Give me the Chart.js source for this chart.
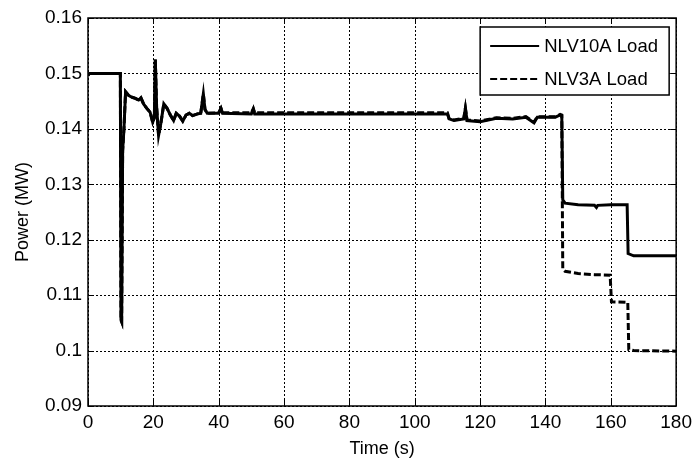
<!DOCTYPE html>
<html>
<head>
<meta charset="utf-8">
<title>Load power</title>
<script src="https://cdn.jsdelivr.net/npm/chart.js@4/dist/chart.umd.min.js"></script>
<style>
  html, body { margin: 0; padding: 0; background: #fff; }
  canvas { display: block; }
</style>
</head>
<body>
<canvas id="loadChart" width="697" height="462"></canvas>
<script>
// NLV10A load (MW) over time (s)
const timeA = [0, 0.5, 9.9, 10.1, 10.3, 10.6, 11.0, 11.5, 12.5, 13.5, 14.5, 15.5, 16.2, 17, 18, 19, 19.8, 20.3, 20.6, 21.0, 21.6, 22.3, 23.2, 24.2, 25.2, 26.2, 27, 28, 29, 30, 31, 32, 33.5, 34.5, 35.3, 35.8, 36.5, 40, 40.7, 41.2, 50, 50.6, 51, 60, 80, 100, 110, 110.5, 112, 115, 115.5, 116, 120, 125, 130, 134, 136.5, 137.5, 140, 143, 144.5, 145, 145.3, 146, 150, 155, 155.6, 156, 160, 165, 165.3, 167, 180];
const loadA = [0.1497, 0.1500, 0.1500, 0.1055, 0.1052, 0.1360, 0.1400, 0.1467, 0.1460, 0.1457, 0.1455, 0.1452, 0.1456, 0.1445, 0.1437, 0.1430, 0.1412, 0.1420, 0.1525, 0.1440, 0.1388, 0.1410, 0.1445, 0.1437, 0.1425, 0.1415, 0.1428, 0.1423, 0.1414, 0.1425, 0.1428, 0.1424, 0.1427, 0.1428, 0.1463, 0.1435, 0.1428, 0.1428, 0.1437, 0.1428, 0.1427, 0.1436, 0.1427, 0.1427, 0.1427, 0.1427, 0.1427, 0.1418, 0.1415, 0.1418, 0.1437, 0.1415, 0.1413, 0.1419, 0.1418, 0.1421, 0.1411, 0.1421, 0.1421, 0.1421, 0.1425, 0.1424, 0.1272, 0.1266, 0.1263, 0.1262, 0.1258, 0.1262, 0.1263, 0.1263, 0.1175, 0.1171, 0.1171];

// NLV3A load (MW) over time (s)
const timeB = [0, 0.5, 9.9, 10.1, 10.3, 10.6, 11.0, 11.5, 12.5, 13.5, 14.5, 15.5, 16.2, 17, 18, 19, 19.8, 20.3, 20.6, 21.0, 21.6, 22.3, 23.2, 24.2, 25.2, 26.2, 27, 28, 29, 30, 31, 32, 33.5, 34.5, 35.3, 35.8, 36.5, 40, 40.7, 41.2, 50, 50.6, 51, 60, 80, 100, 110, 110.5, 112, 115, 115.5, 116, 120, 125, 130, 134, 136.5, 137.5, 140, 143, 144.5, 145, 145.3, 146, 148, 150, 155, 159.8, 160.2, 165.2, 165.5, 167, 180];
const loadB = [0.1497, 0.1500, 0.1500, 0.1055, 0.1052, 0.1360, 0.1400, 0.1467, 0.1460, 0.1457, 0.1455, 0.1452, 0.1456, 0.1445, 0.1437, 0.1430, 0.1412, 0.1420, 0.1525, 0.1440, 0.1388, 0.1410, 0.1445, 0.1437, 0.1425, 0.1415, 0.1428, 0.1423, 0.1414, 0.1425, 0.1428, 0.1424, 0.1427, 0.1428, 0.1463, 0.1435, 0.1428, 0.1429, 0.1437, 0.1429, 0.1429, 0.1436, 0.1429, 0.1429, 0.1429, 0.1429, 0.1429, 0.1419, 0.1416, 0.1419, 0.1437, 0.1416, 0.1414, 0.1420, 0.1419, 0.1422, 0.1412, 0.1422, 0.1422, 0.1422, 0.1426, 0.1425, 0.1147, 0.1143, 0.1141, 0.1139, 0.1137, 0.1136, 0.1088, 0.1087, 0.1002, 0.1000, 0.0999];

const seriesNames = ['NLV10A Load', 'NLV3A Load'];
const xTicks = [0, 20, 40, 60, 80, 100, 120, 140, 160, 180];
const yTicks = [0.09, 0.10, 0.11, 0.12, 0.13, 0.14, 0.15, 0.16];
const yTickLabels = ['0.09', '0.1', '0.11', '0.12', '0.13', '0.14', '0.15', '0.16'];

const FONT = 'Liberation Sans, Arial, sans-serif';

function toPoints(xs, ys) {
    return xs.map((x, i) => ({ x: x, y: ys[i] }));
}

// dotted grid behind the curves
const gridPlugin = {
    id: 'dottedGrid',
    beforeDatasetsDraw(chart) {
        const { ctx, chartArea: a, scales } = chart;
        ctx.save();
        ctx.strokeStyle = '#000';
        ctx.lineWidth = 1;
        ctx.setLineDash([2, 2]);
        ctx.beginPath();
        xTicks.forEach(v => {
            const px = Math.round(scales.x.getPixelForValue(v)) + 0.5;
            ctx.moveTo(px, a.top); ctx.lineTo(px, a.bottom);
        });
        yTicks.forEach(v => {
            const py = Math.round(scales.y.getPixelForValue(v)) + 0.5;
            ctx.moveTo(a.left, py); ctx.lineTo(a.right, py);
        });
        ctx.stroke();
        ctx.restore();
    }
};

// frame, inward tick marks and an in-plot legend box
const framePlugin = {
    id: 'frame',
    afterDatasetsDraw(chart) {
        const { ctx, chartArea: a, scales } = chart;
        const tl = 6;
        ctx.save();
        ctx.strokeStyle = '#000';
        ctx.lineWidth = 1;
        ctx.beginPath();
        xTicks.forEach(v => {
            const px = Math.round(scales.x.getPixelForValue(v)) + 0.5;
            ctx.moveTo(px, a.bottom); ctx.lineTo(px, a.bottom - tl);
            ctx.moveTo(px, a.top); ctx.lineTo(px, a.top + tl);
        });
        yTicks.forEach(v => {
            const py = Math.round(scales.y.getPixelForValue(v)) + 0.5;
            ctx.moveTo(a.left, py); ctx.lineTo(a.left + tl, py);
            ctx.moveTo(a.right, py); ctx.lineTo(a.right - tl, py);
        });
        ctx.stroke();

        ctx.lineWidth = 1.5;
        ctx.strokeRect(a.left, a.top, a.right - a.left, a.bottom - a.top);

        // legend
        const bw = 189, bh = 68;
        const bx = a.right - 7 - bw, by = a.top + 9;
        ctx.fillStyle = '#fff';
        ctx.fillRect(bx, by, bw, bh);
        ctx.strokeRect(bx, by, bw, bh);
        ctx.font = '18.5px ' + FONT;
        ctx.textBaseline = 'middle';
        ctx.textAlign = 'left';
        ctx.fillStyle = '#000';
        const rows = [by + 19, by + 52];
        chart.data.datasets.forEach((ds, i) => {
            ctx.beginPath();
            ctx.lineWidth = 2;
            ctx.setLineDash(ds.borderDash || []);
            ctx.moveTo(bx + 10, rows[i]);
            ctx.lineTo(bx + 59, rows[i]);
            ctx.stroke();
            ctx.setLineDash([]);
            ctx.fillText(ds.label, bx + 64, rows[i] + 1);
        });
        ctx.restore();
    }
};

new Chart(document.getElementById('loadChart'), {
    type: 'line',
    data: {
        datasets: [
            {
                label: seriesNames[0],
                data: toPoints(timeA, loadA),
                borderColor: '#000',
                borderWidth: 3,
                pointRadius: 0,
                tension: 0,
                fill: false
            },
            {
                label: seriesNames[1],
                data: toPoints(timeB, loadB),
                borderColor: '#000',
                borderWidth: 3,
                borderDash: [7, 3],
                pointRadius: 0,
                tension: 0,
                fill: false
            }
        ]
    },
    options: {
        responsive: false,
        animation: false,
        devicePixelRatio: 1,
        layout: { padding: { top: 18, right: 18, left: 0, bottom: 0 } },
        plugins: {
            legend: { display: false },
            tooltip: { enabled: false }
        },
        scales: {
            x: {
                type: 'linear',
                min: 0,
                max: 180,
                afterBuildTicks(scale) { scale.ticks = xTicks.map(v => ({ value: v })); },
                afterFit(scale) { scale.height = 56; },
                ticks: {
                    color: '#000',
                    padding: 5,
                    maxRotation: 0,
                    font: { family: FONT, size: 19 },
                    callback: v => String(v)
                },
                grid: { display: false, drawTicks: false },
                border: { display: false },
                title: {
                    display: true,
                    text: 'Time (s)',
                    color: '#000',
                    font: { family: FONT, size: 18 },
                    padding: { top: 0, bottom: 2 }
                }
            },
            y: {
                type: 'linear',
                min: 0.09,
                max: 0.16,
                afterBuildTicks(scale) { scale.ticks = yTicks.map(v => ({ value: v })); },
                afterFit(scale) { scale.width = 88; },
                ticks: {
                    color: '#000',
                    padding: 6,
                    font: { family: FONT, size: 19 },
                    callback: (v, i) => yTickLabels[i]
                },
                grid: { display: false, drawTicks: false },
                border: { display: false },
                title: {
                    display: true,
                    text: 'Power (MW)',
                    color: '#000',
                    font: { family: FONT, size: 18 },
                    padding: { top: 12, bottom: 0 }
                }
            }
        }
    },
    plugins: [gridPlugin, framePlugin]
});
</script>
</body>
</html>
